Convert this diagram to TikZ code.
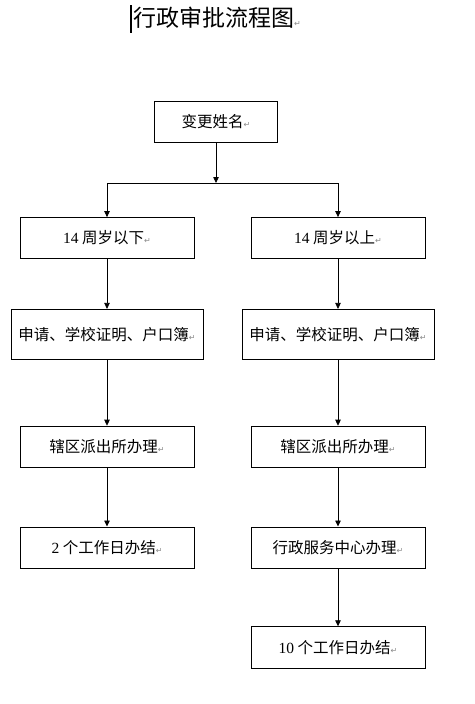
\documentclass[tikz,border=0pt]{standalone}
\usepackage{fontspec}
\setmainfont{Liberation Serif}
\newfontfamily\cjk{Noto Sans CJK SC}
\newfontfamily\symfont{DejaVu Sans}
\usepackage{tikz}
\usetikzlibrary{arrows.meta, positioning}
\definecolor{cMark}{HTML}{8A8A8A}
\newcommand{\ret}{{\symfont\fontsize{8}{8}\selectfont\textcolor{cMark}{↵}}}
\tikzset{
  flowbox/.style={
    rectangle, draw=black, line width=0.8pt, fill=white,
    minimum width=174pt, minimum height=41pt, inner sep=0pt,
    align=center, font=\fontsize{15.5}{18}\selectfont\cjk
  },
  widebox/.style={flowbox, minimum width=192pt, minimum height=50pt},
  arrow/.style={-{Triangle[length=6pt, width=5.5pt]}, line width=0.8pt},
  line/.style={line width=0.8pt},
}

\begin{document}
\begin{tikzpicture}[x=1pt, y=-1pt, node distance=50pt]

  \useasboundingbox[fill=white] (0,0) rectangle (474,704);

  % Title
  \draw[line width=2pt] (131,5) -- (131,33);
  \node[anchor=west, inner sep=0pt, font=\fontsize{23}{25}\selectfont\cjk]
    (title) at (133,18) {行政审批流程图\ret};

  % Start
  \node[flowbox, minimum width=123pt] (start) at (216,122) {变更姓名\ret};

  % Left branch
  \node[flowbox] (young) at (107,238) {{\rmfamily 14} 周岁以下\ret};
  \node[widebox, below=50pt of young]   (docsL)   {申请、学校证明、户口簿\ret};
  \node[flowbox, below=66pt of docsL]   (policeL) {辖区派出所办理\ret};
  \node[flowbox, below=59pt of policeL] (doneL)   {{\rmfamily 2} 个工作日办结\ret};

  % Right branch
  \node[flowbox] (adult) at (338,238) {{\rmfamily 14} 周岁以上\ret};
  \node[widebox, below=50pt of adult]   (docsR)   {申请、学校证明、户口簿\ret};
  \node[flowbox, below=66pt of docsR]   (policeR) {辖区派出所办理\ret};
  \node[flowbox, below=59pt of policeR] (center)  {行政服务中心办理\ret};
  \node[flowbox, below=58pt of center, minimum height=42pt] (doneR) {{\rmfamily 10} 个工作日办结\ret};

  % Arrows
  \coordinate (fork) at (216,183);
  \draw[arrow] (start) -- (fork);
  \draw[line]  (fork -| young) -- (fork -| adult);
  \draw[arrow] (fork -| young) -- (young);
  \draw[arrow] (fork -| adult) -- (adult);
  \draw[arrow] (young)   -- (docsL);
  \draw[arrow] (docsL)   -- (policeL);
  \draw[arrow] (policeL) -- (doneL);
  \draw[arrow] (adult)   -- (docsR);
  \draw[arrow] (docsR)   -- (policeR);
  \draw[arrow] (policeR) -- (center);
  \draw[arrow] (center)  -- (doneR);

\end{tikzpicture}
\end{document}
